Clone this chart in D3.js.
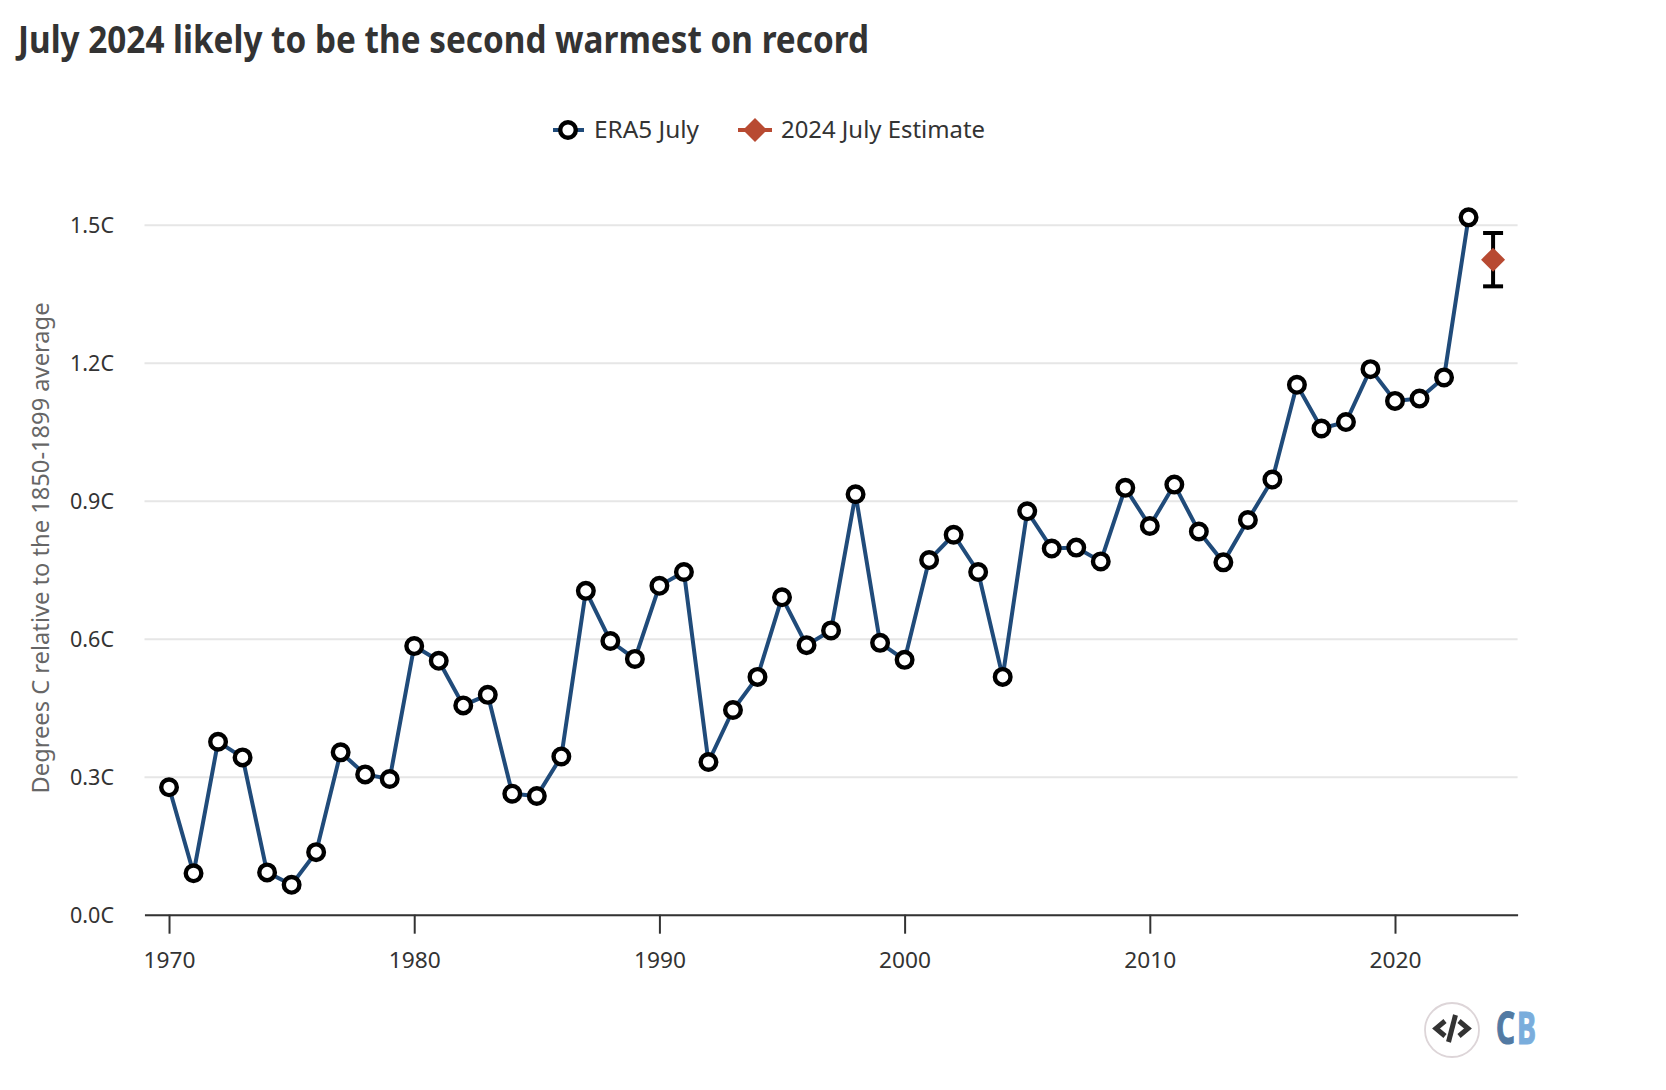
<!DOCTYPE html>
<html lang="en">
<head>
<meta charset="utf-8">
<title>July 2024 likely to be the second warmest on record</title>
<script src="https://d3js.org/d3.v7.min.js"></script>
<style>
  body { margin: 0; background: #fff; }
  svg { display: block; }
  text { font-family: "Noto Sans", sans-serif; fill: #333; }
  .grid line { stroke: #e6e6e6; stroke-width: 2; }
  .grid path { display: none; }
  .xaxis path, .xaxis line { stroke: #333; stroke-width: 2; }
</style>
</head>
<body>
<svg id="chart" width="1666" height="1090"></svg>
<script>
var years = d3.range(1970, 2024);
var era5July = [
  0.277, 0.090, 0.376, 0.342, 0.092, 0.065, 0.136, 0.353, 0.305, 0.295,
  0.584, 0.552, 0.455, 0.478, 0.263, 0.258, 0.344, 0.704, 0.595, 0.556,
  0.715, 0.745, 0.332, 0.445, 0.517, 0.690, 0.586, 0.618, 0.914, 0.591,
  0.554, 0.771, 0.826, 0.745, 0.517, 0.877, 0.796, 0.798, 0.768, 0.928,
  0.845, 0.935, 0.833, 0.766, 0.858, 0.946, 1.152, 1.057, 1.071, 1.186,
  1.117, 1.122, 1.168, 1.516
];
var estimateYear = 2024;
var estimate = 1.424;
var estimateLow = 1.366;
var estimateHigh = 1.482;
var xTicks = [1970, 1980, 1990, 2000, 2010, 2020];
var yTicks = [0, 0.3, 0.6, 0.9, 1.2, 1.5];

var NAVY = "#204b7a", RUST = "#b84a32";

var svg = d3.select("#chart");
var x = d3.scaleLinear().domain([1969, 2025]).range([144.5, 1517.6]);
var y = d3.scaleLinear().domain([0, 1.5]).range([914.7, 224.7]);

// squeezes text to the measured width, the original font is narrower
function label(str, px, py, size, len, anchor) {
  return svg.append("text").text(str)
    .attr("x", px).attr("y", py)
    .attr("font-size", size)
    .attr("text-anchor", anchor || "start")
    .attr("textLength", len)
    .attr("lengthAdjust", "spacingAndGlyphs");
}

label("July 2024 likely to be the second warmest on record", 18, 52.5, 37, 851)
  .attr("font-weight", 700);

// gridlines
svg.append("g").attr("class", "grid")
  .attr("transform", "translate(" + x.range()[0] + ",0)")
  .call(d3.axisLeft(y).tickValues(yTicks).tickSize(-(x.range()[1] - x.range()[0])).tickFormat(""));

// y tick labels
svg.append("g").selectAll("text").data(yTicks).join("text")
  .text(function(d) { return d.toFixed(1) + "C"; })
  .attr("x", 114)
  .attr("y", function(d) { return y(d) + 8.5; })
  .attr("text-anchor", "end")
  .attr("font-size", 22)
  .attr("textLength", 44)
  .attr("lengthAdjust", "spacingAndGlyphs");

// x axis
var xAxis = svg.append("g").attr("class", "xaxis")
  .attr("transform", "translate(0," + y(0) + ")")
  .call(d3.axisBottom(x).tickValues(xTicks).tickSize(19).tickSizeOuter(0).tickFormat(d3.format("d")));
xAxis.selectAll("text")
  .attr("y", 39).attr("dy", 14)
  .attr("font-size", 22)
  .attr("font-family", "Noto Sans")
  .attr("textLength", 52)
  .attr("lengthAdjust", "spacingAndGlyphs");

// y title
svg.append("text").text("Degrees C relative to the 1850-1899 average")
  .attr("transform", "translate(49,548) rotate(-90)")
  .attr("text-anchor", "middle")
  .attr("font-size", 24)
  .attr("textLength", 491)
  .attr("lengthAdjust", "spacingAndGlyphs")
  .style("fill", "#666");

// ERA5 line and points
var line = d3.line()
  .x(function(d, i) { return x(years[i]); })
  .y(function(d) { return y(d); });

svg.append("path").datum(era5July)
  .attr("d", line)
  .attr("fill", "none")
  .attr("stroke", NAVY)
  .attr("stroke-width", 4);

svg.append("g").selectAll("circle").data(era5July).join("circle")
  .attr("cx", function(d, i) { return x(years[i]); })
  .attr("cy", function(d) { return y(d); })
  .attr("r", 7.8)
  .attr("fill", "#fff")
  .attr("stroke", "#000")
  .attr("stroke-width", 4.4);

// 2024 error bar
var ex = x(estimateYear);
var errorBar = svg.append("g").attr("stroke", "#000").attr("stroke-width", 4);
errorBar.append("line").attr("x1", ex).attr("x2", ex).attr("y1", y(estimateHigh)).attr("y2", y(estimateLow));
[estimateHigh, estimateLow].forEach(function(v) {
  errorBar.append("line").attr("x1", ex - 10).attr("x2", ex + 10).attr("y1", y(v)).attr("y2", y(v));
});

var diamond = d3.symbol().type(d3.symbolSquare).size(288);
svg.append("path")
  .attr("d", diamond)
  .attr("transform", "translate(" + ex + "," + y(estimate) + ") rotate(45)")
  .attr("fill", RUST);

// legend
svg.append("line").attr("x1", 553).attr("x2", 584).attr("y1", 130).attr("y2", 130)
  .attr("stroke", NAVY).attr("stroke-width", 4);
svg.append("circle").attr("cx", 568).attr("cy", 130).attr("r", 7.8)
  .attr("fill", "#fff").attr("stroke", "#000").attr("stroke-width", 4.4);
label("ERA5 July", 594, 138, 24, 105);

svg.append("line").attr("x1", 738).attr("x2", 772).attr("y1", 130).attr("y2", 130)
  .attr("stroke", RUST).attr("stroke-width", 4);
svg.append("path").attr("d", diamond)
  .attr("transform", "translate(755,130) rotate(45)")
  .attr("fill", RUST);
label("2024 July Estimate", 781, 138, 24, 204);

// embed button and CB logo
svg.append("circle").attr("cx", 1452).attr("cy", 1030).attr("r", 27)
  .attr("fill", "#fff").attr("stroke", "#ddd5d8").attr("stroke-width", 1.8);
var icon = svg.append("g")
  .attr("fill", "none").attr("stroke", "#333").attr("stroke-width", 5);
icon.append("path").attr("d", "M1445,1021L1436,1028.5L1445,1036");
icon.append("path").attr("d", "M1459,1021L1468,1028.5L1459,1036");
icon.append("path").attr("d", "M1455.5,1015L1448.5,1042");
label("C", 1496, 1044, 44, 19).attr("font-weight", 700)
  .attr("font-family", "Liberation Sans Narrow")
  .style("fill", "#527aa3").style("stroke", "#527aa3").style("stroke-width", 1.2);
label("B", 1517, 1044, 44, 19).attr("font-weight", 700)
  .attr("font-family", "Liberation Sans Narrow")
  .style("fill", "#7aaddc").style("stroke", "#7aaddc").style("stroke-width", 1.2);
</script>
</body>
</html>
